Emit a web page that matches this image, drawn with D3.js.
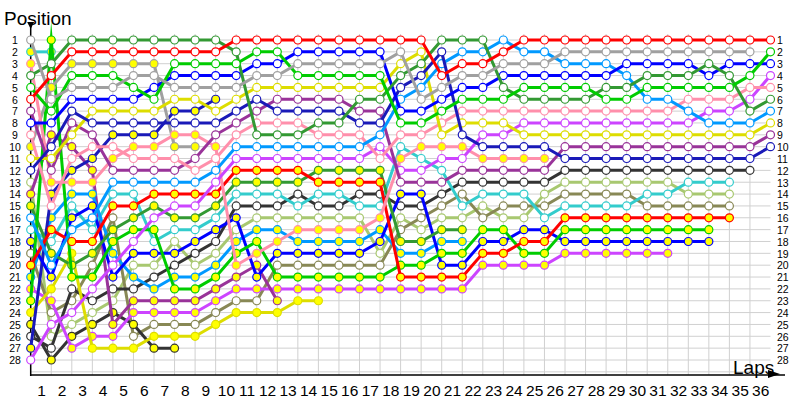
<!DOCTYPE html>
<html><head><meta charset="utf-8">
<script src="https://cdn.jsdelivr.net/npm/d3@7"></script>
<style>body{margin:0;background:#fff}svg{display:block}</style>
</head><body>
<svg id="chart" width="800" height="400"></svg>
<script>
// ---- data: position of each driver at each lap (index = lap, 0 = grid) ----
const laps = d3.range(0, 37);
const positions = d3.range(1, 29);
const lapLabels = d3.range(1, 37);

const redH    = [6,4,2,2,2,2,2,2,2,2, 1,1,1,1,1,1,1,1,1,1, 4,3,3,2,1,1,1,1,1,1, 1,1,1,1,1,1,1];
const redY    = [20,17,18,18,15,15,14,14,14,14, 12,12,12,12,13,13,13,13,21,21, 21,21,19,19,18,18,16,16,16,16, 16,16,16,16,16];
const grayH   = [1,6,5,5,5,4,4,5,5,5, 5,4,4,3,3,3,3,3,2,6, 5,4,4,3,3,3,2,2,2,2, 2,2,2,2,2,2];
const grayY   = [10,5,3,3,3,3,3,10,10];
const greenH  = [5,7,4,4,4,5,6,3,3,3, 3,2,2,4,4,4,4,4,8,8, 7,6,6,6,5,5,5,5,6,6, 5,5,5,5,5,4,2];
const greenY  = [23,1,21,21,18,17,17,22,22,21, 19,18,21,21,21,21,21,21,20,20, 19,19,17,17,19,19,17,17,17,17, 17,17,17,17];
const dkgreenH= [4,3,1,1,1,1,1,1,1,1, 2,9,9,9,8,8,6,6,4,3, 1,1,1,5,6,6,6,6,5,5, 4,4,4,3,4,7,6];
const dkgreenY= [15,19,20,19,17,16,15,16,16,15, 13,13,13,13,12,12,12,12,18,18, 17,17];
const blueH   = [8,8,6,6,6,6,5,4,4,4, 4,3,3,2,2,2,2,2,7,7, 6,5,5,4,4,4,4,4,4,3, 3,3,3,4,3,3,3];
const blueY   = [18,21,16,15,21,19,19,19,18,17, 16,21,19,19,19,19,19,18,14,14, 20,20,18,18,17,17,18,18,18,18, 18,18,18,18];
const dkblueH = [12,10,7,8,8,8,8,8,8,8, 7,6,7,7,7,7,8,8,5,4, 2,9,10,10,10,10,11,11,11,11, 11,11,11,11,11,11,10];
const dkblueY = [27,14,12,11,9,9,9,7,7,6];
const ltblueH = [16,20,17,16,13,13,13,13,13,12, 10,10,10,10,10,10,10,9,6,5, 3,2,2,1,2,2,3,3,3,4, 6,6,7,8,8,8,7];
const ltblueY = [21,16,14,14,19,21,22,21,21,20, 18,17,17,18,18,18,18,17,19,19, 18,18];
const cyanH   = [17,18,15,17,14,14,18,17,17,16, 14,14,14,15,14,14,15,15,10,11, 12,15,14,14,14,16,15,15,15,15, 14,14,13,13,13];
const cyanY   = [2,2];
const yellowH = [11,11,9,7,7,7,7,6,6,7, 6,5,5,5,5,5,5,5,3,2, 9,8,8,8,9,9,9,9,9,9, 9,9,9,9,9,9,8];
const yellowY = [24,22,19,27,27,27,26,26,26,25, 24,24,24,23,23];
const pinkH   = [9,15,11,10,10,11,11,11,12,11, 9,8,8,8,9,9,9,11,9,9, 8,7,7,7,7,7,7,7,7,7, 7,7,6,6,6,5,5];
const pinkY   = [3,13,13,13,11,10,10,9,9,10, 20,19,18,17,17,17,17,16,11,10, 10,10,11,11,11,11];
const purpleH = [7,12,8,9,12,12,12,12,11,9, 8,7,6,6,6,6,7,7,13,13, 13,12,12,12,12,12,10,10,10,10, 10,10,10,10,10,10,9];
const purpleY = [14,9,10,12,25,23,23,23,23,22, 21,20,23];
const violetH = [28,25,24,22,20,18,16,15,15,13, 11,11,11,11,11,11,11,10,12,12, 11,11,9,9,8,8,8,8,8,8, 8,8,8,7,7,6,4];
const violetY = [22,23,27,26,26,24,24,24,24,23, 22,22,22,22,22,22,22,22,22,22, 22,22,20,20,20,20,19,19,19,19, 19,19];
const blackH  = [26,27,22,23,22,22,21,20,19,18, 15,15,15,14,15,15,14,14,15,15, 14,13,13,13,13,13,12,12,12,12, 12,12,12,12,12,12];
const blackY  = [25,28,26,25,24,25,27,27];
const oliveH  = [19,24,23,20,16,26,25,25,25,24, 23,23,20,20,20,20,20,20,17,16, 15,14,16,15,15,15,14,14,14,14, 15,15,15,15,15];
const ltgreenH= [13,26,25,24,23,20,20,18,20,19, 17,16,16,16,16,16,16,19,16,17, 16,16,15,16,16,14,13,13,13,13, 13,13,14,14,14];

// ---- series table (data + style) ----
const C = {red:"#ff0000", gray:"#a0a0a0", green:"#00cc00", dkgreen:"#339933", blue:"#0000ff",
  dkblue:"#1a1ab8", ltblue:"#0099ff", cyan:"#33cccc", yellow:"#dddd00", pink:"#ff8fab",
  purple:"#993399", violet:"#cc44ff", black:"#333333", olive:"#888855", ltgreen:"#a8c870"};
const series = [
  [ltgreenH,C.ltgreen,0],[oliveH,C.olive,0],[blackY,C.black,1],[blackH,C.black,0],
  [violetY,C.violet,1],[purpleY,C.purple,1],[yellowY,C.yellow,1],[cyanY,C.cyan,1],[cyanH,C.cyan,0],
  [ltblueY,C.ltblue,1],[dkblueY,C.dkblue,1],[blueY,C.blue,1],[dkgreenY,C.dkgreen,1],[greenY,C.green,1],
  [grayY,C.gray,1],[redY,C.red,1],[pinkY,C.pink,1],
  [violetH,C.violet,0],[purpleH,C.purple,0],[pinkH,C.pink,0],[yellowH,C.yellow,0],[ltblueH,C.ltblue,0],
  [dkblueH,C.dkblue,0],[blueH,C.blue,0],[dkgreenH,C.dkgreen,0],[greenH,C.green,0],[grayH,C.gray,0],[redH,C.red,0]
].map(([vals,color,filled]) => ({vals, color, fill: filled ? "#ffff00" : "#ffffff"}));

// ---- scales ----
const svg = d3.select("#chart");
const x = d3.scaleLinear().domain([0, 36]).range([30.7, 770.5]);
const y = d3.scaleLinear().domain([1, 28]).range([40, 360]);
const fontFam = "'Liberation Sans', Arial, sans-serif";

// grid
const grid = svg.append("g").attr("stroke", "#d0d0d0").attr("stroke-width", 1);
grid.selectAll("line.v").data(d3.range(1, 36)).join("line")
  .attr("x1", d => x(d)).attr("x2", d => x(d)).attr("y1", 34).attr("y2", 375);
grid.selectAll("line.h").data(d3.range(1, 30)).join("line")
  .attr("x1", x(0)).attr("x2", x(36)).attr("y1", d => y(d)).attr("y2", d => y(d));

// axes
const leftAxis = d3.axisLeft(y).tickValues(positions).tickFormat(d3.format("d")).tickSize(0).tickPadding(0);
const gl = svg.append("g").attr("transform", "translate(15,0)").call(leftAxis);
gl.select(".domain").remove();
gl.selectAll("text").attr("text-anchor", "middle").attr("dy", "0.36em")
  .style("font-family", fontFam).style("font-size", "10.5px").attr("fill", "#000");

const rightAxis = d3.axisRight(y).tickValues(positions).tickFormat(d3.format("d")).tickSize(0).tickPadding(0);
const gr = svg.append("g").attr("transform", "translate(777,0)").call(rightAxis);
gr.select(".domain").remove();
gr.selectAll("text").attr("dy", "0.36em")
  .style("font-family", fontFam).style("font-size", "10.5px").attr("fill", "#000");

const bottomAxis = d3.axisBottom(x).tickValues(lapLabels.map(d => d - 0.5)).tickFormat(d => d3.format("d")(d + 0.5)).tickSize(0).tickPadding(0);
const gb = svg.append("g").attr("transform", "translate(0,385)").call(bottomAxis);
gb.select(".domain").remove();
gb.selectAll("text").attr("dy", "0.71em")
  .style("font-family", fontFam).style("font-size", "15.5px").attr("fill", "#000");

// axis lines with arrows
svg.append("line").attr("x1", x(0)).attr("x2", x(0)).attr("y1", 24).attr("y2", 376).attr("stroke", "#000").attr("stroke-width", 1.5);
svg.append("line").attr("x1", x(0)).attr("x2", 785).attr("y1", 375).attr("y2", 375).attr("stroke", "#000").attr("stroke-width", 1.5);
svg.append("path").attr("d", `M${x(0)-3.5},22 L${x(0)+3.5},22 L${x(0)},29 Z`).attr("fill", "#000");
svg.append("path").attr("d", "M768,370 L780,374 L768,378 Z").attr("fill", "#000");
svg.append("text").attr("x", 4).attr("y", 25).text("Position")
  .style("font-family", fontFam).style("font-size", "19px").attr("fill", "#000");
svg.append("text").attr("x", 733).attr("y", 374).text("Laps")
  .style("font-family", fontFam).style("font-size", "19px").attr("fill", "#000");

// series
const line = d3.line().x((d, i) => x(i)).y(d => y(d));
const sg = svg.append("g").selectAll("g").data(series).join("g");
sg.append("path").attr("d", d => line(d.vals)).attr("fill", "none")
  .attr("stroke", d => d.color).attr("stroke-width", 3).attr("stroke-linejoin", "miter").attr("stroke-miterlimit", 20);
sg.each(function(s) {
  d3.select(this).selectAll("circle").data(s.vals).join("circle")
    .attr("cx", (d, i) => x(i)).attr("cy", d => y(d)).attr("r", 4)
    .attr("fill", s.fill).attr("stroke", s.color).attr("stroke-width", 1.2);
});
</script>
</body></html>
